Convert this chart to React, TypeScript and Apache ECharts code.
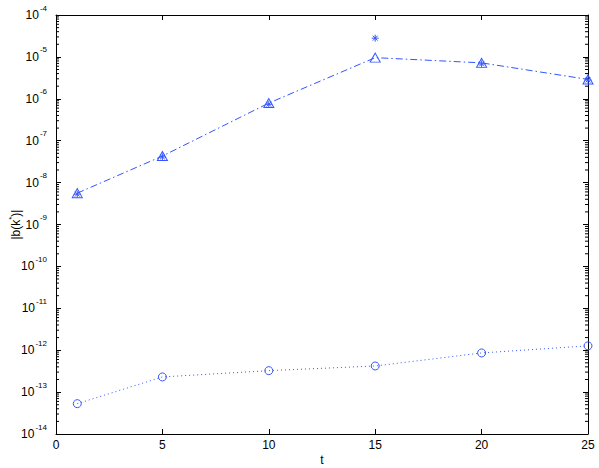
import React, { useEffect, useRef } from "react";
import * as echarts from "echarts";

const tValues = [1, 5, 10, 15, 20, 25];
const triangleValues = [5.6e-9, 4.3e-8, 7.9e-7, 9.6e-6, 7.2e-6, 2.9e-6];
const asteriskValues = [5.3e-9, 4.1e-8, 7.4e-7, 2.8e-5, 6.8e-6, 2.8e-6];
const circleValues = [5.3e-14, 2.3e-13, 3.25e-13, 4.2e-13, 8.6e-13, 1.27e-12];
const yMin = 1e-14;
const yMax = 1e-4;

// minor tick positions (2..9 x 10^n) for log axis
const minorTickValues: number[] = [];
for (let e = -14; e < -4; e++) {
  for (let k = 2; k <= 9; k++) minorTickValues.push(k * Math.pow(10, e));
}

const BLUE = "#3355ff";
const FONT = "'Liberation Sans', Arial, Helvetica, sans-serif";

export default function App() {
  const ref = useRef<HTMLDivElement>(null);
  useEffect(() => {
    if (!ref.current) return;
    const chart = echarts.init(ref.current, null, { renderer: "svg" });
    const logLabel = (v: number) => {
      const e = Math.round(Math.log10(v));
      return `{b|10}{s|${e}}`;
    };
    const axisCommon = {
      axisLine: { show: true, onZero: false, lineStyle: { color: "#000", width: 1 } },
      axisTick: { show: true, inside: true, length: 5, lineStyle: { color: "#000" } },
      splitLine: { show: false },
    };
    const option: any = {
      animation: false,
      backgroundColor: "#fff",
      textStyle: { fontFamily: FONT },
      grid: { left: 56, right: 11, top: 15, bottom: 34, containLabel: false, outerBoundsMode: "none" },
      xAxis: [
        {
          type: "value",
          min: 0,
          max: 25,
          interval: 5,
          position: "bottom",
          ...axisCommon,
          axisLabel: { color: "#000", fontSize: 12, margin: 5, fontFamily: FONT },
          name: "t",
          nameLocation: "middle",
          nameGap: 20,
          nameMoveOverlap: false,
          nameTextStyle: { color: "#000", fontSize: 12, fontFamily: FONT },
        },
        {
          type: "value",
          min: 0,
          max: 25,
          interval: 5,
          position: "top",
          ...axisCommon,
          axisLabel: { show: false },
        },
      ],
      yAxis: [
        {
          type: "log",
          logBase: 10,
          min: yMin,
          max: yMax,
          interval: 1,
          position: "left",
          ...axisCommon,
          axisLabel: {
            formatter: logLabel,
            margin: 9,
            rich: {
              b: { fontSize: 12, color: "#000", lineHeight: 12, padding: [6, 0, 6, 0], fontFamily: FONT },
              s: { fontSize: 8, color: "#000", lineHeight: 10, padding: [0, 0, 14, 1], fontFamily: FONT },
            },
          },
          name: "{n||b(k}{s|*}{n|)|}",
          nameLocation: "middle",
          nameGap: 34,
          nameMoveOverlap: false,
          nameRotate: 90,
          nameTextStyle: {
            rich: {
              n: { fontSize: 12, color: "#000", lineHeight: 12, padding: [4, 0, 4, 0], fontFamily: FONT },
              s: { fontSize: 8, color: "#000", lineHeight: 10, padding: [0, 0, 10, 0], fontFamily: FONT },
            },
          },
        },
        {
          type: "log",
          logBase: 10,
          min: yMin,
          max: yMax,
          interval: 1,
          position: "right",
          ...axisCommon,
          axisLabel: { show: false },
        },
      ],
      series: [
        {
          type: "custom",
          xAxisIndex: 0,
          yAxisIndex: 0,
          silent: true,
          clip: false,
          data: minorTickValues.map((v) => [0, v]),
          renderItem: (params: any, api: any) => {
            const y = api.coord([0, api.value(1)])[1];
            const cs = params.coordSys;
            return {
              type: "group",
              children: [
                { type: "line", shape: { x1: cs.x, y1: y, x2: cs.x + 3, y2: y }, style: { stroke: "#000", lineWidth: 1 } },
                {
                  type: "line",
                  shape: { x1: cs.x + cs.width - 3, y1: y, x2: cs.x + cs.width, y2: y },
                  style: { stroke: "#000", lineWidth: 1 },
                },
              ],
            };
          },
        },
        {
          type: "line",
          data: tValues.map((t, i) => [t, triangleValues[i]]),
          symbol: "triangle",
          symbolSize: [10, 9],
          itemStyle: { color: "rgba(255,255,255,0)", borderColor: BLUE, borderWidth: 1 },
          lineStyle: { color: BLUE, width: 1, type: [7, 3, 1.5, 3] },
        },
        {
          type: "line",
          data: tValues.map((t, i) => [t, asteriskValues[i]]),
          symbol: "path://M5,0L5,10M0,5L10,5M1.5,1.5L8.5,8.5M8.5,1.5L1.5,8.5",
          symbolSize: 7,
          itemStyle: { color: "rgba(255,255,255,0)", borderColor: BLUE, borderWidth: 1 },
          lineStyle: { width: 0, opacity: 0 },
        },
        {
          type: "line",
          data: tValues.map((t, i) => [t, circleValues[i]]),
          symbol: "circle",
          symbolSize: 8,
          itemStyle: { color: "rgba(255,255,255,0)", borderColor: BLUE, borderWidth: 1 },
          lineStyle: { color: BLUE, width: 1, type: [1, 3] },
        },
      ],
    };
    chart.setOption(option);
    return () => chart.dispose();
  }, []);
  return (
    <div
      ref={ref}
      style={{ position: "fixed", left: 0, top: 0, width: 599, height: 468, background: "#fff" }}
    />
  );
}
